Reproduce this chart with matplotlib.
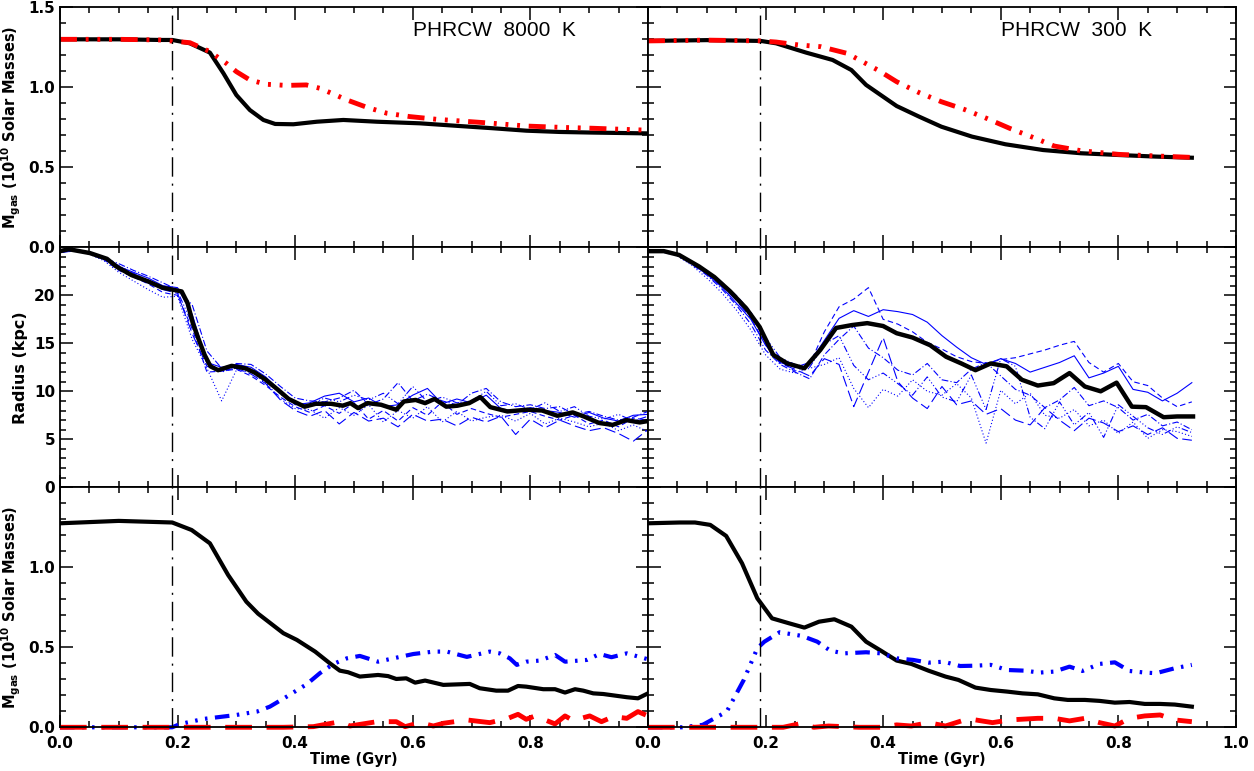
import numpy as np
import matplotlib
matplotlib.use("Agg")
import matplotlib.pyplot as plt
from matplotlib.ticker import MultipleLocator

# ---------------- data ----------------
# top row: gas mass, left = PHRCW 8000 K, right = PHRCW 300 K
t_top_l = [0.0, 0.1, 0.17, 0.191, 0.221, 0.255, 0.278, 0.300, 0.323, 0.346, 0.366, 0.397,
           0.437, 0.482, 0.539, 0.612, 0.680, 0.737, 0.793, 0.850, 0.907, 1.0]
m_black_l = [1.30, 1.30, 1.296, 1.296, 1.275, 1.217, 1.088, 0.952, 0.858, 0.796, 0.771, 0.769,
             0.785, 0.796, 0.785, 0.775, 0.758, 0.744, 0.729, 0.721, 0.717, 0.712]
t_red_l = [0.0, 0.1, 0.17, 0.221, 0.255, 0.283, 0.300, 0.323, 0.351, 0.385, 0.419, 0.442, 0.465,
           0.488, 0.522, 0.556, 0.595, 0.641, 0.680, 0.737, 0.793, 0.850, 0.907, 1.0]
m_red_l = [1.30, 1.30, 1.296, 1.279, 1.223, 1.15, 1.098, 1.046, 1.019, 1.012, 1.015, 0.994, 0.958,
           0.921, 0.875, 0.838, 0.817, 0.80, 0.79, 0.775, 0.758, 0.75, 0.744, 0.732]

t_top_r = [0.0, 0.1, 0.192, 0.218, 0.269, 0.314, 0.346, 0.371, 0.423, 0.461, 0.499, 0.551,
           0.608, 0.672, 0.736, 0.800, 0.864, 0.925]
m_black_r = [1.29, 1.295, 1.29, 1.275, 1.217, 1.171, 1.108, 1.015, 0.883, 0.817, 0.754, 0.692,
             0.644, 0.608, 0.588, 0.577, 0.567, 0.56]
t_red_r = [0.0, 0.1, 0.192, 0.218, 0.256, 0.294, 0.339, 0.365, 0.391, 0.423, 0.461, 0.499,
           0.538, 0.576, 0.615, 0.659, 0.691, 0.736, 0.800, 0.864, 0.925]
m_red_r = [1.29, 1.295, 1.29, 1.283, 1.265, 1.254, 1.212, 1.16, 1.108, 1.035, 0.967, 0.91,
           0.862, 0.806, 0.744, 0.681, 0.633, 0.604, 0.581, 0.571, 0.562]

# middle row: radius (kpc)
t_rad_l = [0.0, 0.015, 0.051, 0.080, 0.096, 0.122, 0.148, 0.174, 0.191, 0.207, 0.217, 0.226,
           0.236, 0.246, 0.256, 0.269, 0.292, 0.315, 0.331, 0.350, 0.370, 0.389, 0.416, 0.435,
           0.461, 0.481, 0.494, 0.507, 0.523, 0.546, 0.572, 0.585, 0.605, 0.621, 0.637, 0.657,
           0.676, 0.696, 0.715, 0.732, 0.761, 0.794, 0.820, 0.846, 0.872, 0.891, 0.917, 0.940,
           0.963, 0.986, 1.0]
r_black_l = [24.6, 24.8, 24.4, 23.8, 23.0, 22.1, 21.5, 20.8, 20.6, 20.4, 19.2, 17.1,
             15.4, 13.8, 12.6, 12.2, 12.65, 12.4, 11.96, 11.2, 10.2, 9.2, 8.4, 8.7,
             8.7, 8.5, 8.77, 8.25, 8.77, 8.6, 8.08, 8.94, 9.1, 8.77, 9.2, 8.4,
             8.5, 8.77, 9.4, 8.35, 7.9, 8.08, 8.0, 7.45, 7.8, 7.38, 6.7, 6.5,
             7.0, 6.76, 6.9]

t_rad_r = [0.0, 0.027, 0.053, 0.087, 0.113, 0.140, 0.167, 0.190, 0.213, 0.237, 0.266, 0.293,
           0.320, 0.347, 0.373, 0.400, 0.423, 0.450, 0.480, 0.507, 0.533, 0.557, 0.583, 0.610,
           0.636, 0.663, 0.690, 0.717, 0.743, 0.770, 0.797, 0.823, 0.847, 0.877, 0.900, 0.927]
r_black_r = [24.6, 24.6, 24.2, 23.0, 21.9, 20.4, 18.65, 16.7, 13.8, 12.9, 12.4, 14.3,
             16.6, 16.9, 17.1, 16.8, 16.05, 15.6, 14.8, 13.6, 12.9, 12.2, 12.9, 12.6,
             11.2, 10.6, 10.85, 11.9, 10.5, 10.0, 10.9, 8.4, 8.35, 7.3, 7.38, 7.38]

# individual radii (blue), sampled every 0.025 Gyr
t_blue_l = np.arange(41) * 0.025
blue_l = [
    [24.5, 24.8, 24.4, 23.8, 23.0, 22.4, 21.8, 21.0, 20.8, 18.0, 13.0, 12.5, 12.8, 12.5, 11.5, 10.0,
     8.6, 8.8, 9.5, 9.8, 8.9, 9.3, 8.4, 8.6, 9.6, 10.3, 8.7, 9.2, 8.8, 9.6, 8.2, 7.9, 8.3, 8.0,
     7.8, 7.3, 7.8, 7.2, 6.9, 7.5, 7.6],
    [24.6, 24.7, 24.3, 23.7, 22.6, 21.9, 21.2, 20.3, 20.0, 16.5, 12.0, 12.1, 12.3, 11.6, 10.6, 9.4,
     8.4, 7.8, 8.5, 7.7, 8.8, 7.1, 8.0, 6.9, 8.3, 7.5, 8.9, 7.6, 8.2, 7.7, 7.3, 7.6, 7.9, 7.4,
     7.0, 7.5, 6.6, 7.0, 6.3, 7.2, 7.0],
    [24.5, 24.6, 24.5, 23.9, 23.3, 22.6, 22.0, 21.3, 20.6, 19.0, 14.2, 12.4, 12.9, 12.8, 11.8, 10.5,
     9.3, 9.0, 8.9, 9.3, 10.1, 8.6, 9.2, 10.9, 9.0, 9.7, 9.0, 8.6, 9.8, 10.3, 8.9, 8.4, 8.6, 8.2,
     8.4, 7.6, 7.9, 7.4, 7.0, 7.3, 7.9],
    [24.4, 24.7, 24.3, 23.6, 22.4, 21.5, 20.6, 19.8, 19.9, 15.4, 12.4, 9.0, 12.2, 12.0, 10.9, 9.2,
     8.2, 8.1, 7.2, 8.3, 7.5, 8.6, 6.8, 8.0, 7.2, 8.4, 6.8, 7.9, 6.9, 7.3, 7.5, 6.9, 7.7, 6.6,
     7.2, 6.8, 6.3, 6.7, 5.9, 6.5, 5.8],
    [24.6, 24.8, 24.5, 24.0, 23.1, 22.3, 21.6, 20.9, 20.4, 17.0, 12.8, 12.0, 12.5, 12.3, 11.4, 9.7,
     8.8, 8.6, 9.3, 8.9, 9.6, 9.1, 9.8, 8.7, 10.5, 8.9, 9.4, 8.8, 9.0, 10.0, 8.5, 8.7, 8.1, 8.8,
     7.9, 8.4, 7.4, 7.1, 7.6, 6.9, 7.4],
    [24.5, 24.6, 24.4, 23.8, 22.8, 22.0, 21.3, 20.6, 20.2, 16.0, 12.6, 12.2, 12.4, 11.8, 10.8, 9.1,
     8.0, 7.4, 8.0, 6.6, 7.8, 6.9, 7.2, 6.3, 7.6, 6.9, 7.1, 6.4, 7.3, 6.8, 7.4, 5.5, 7.1, 6.2,
     7.0, 6.4, 5.9, 6.2, 5.6, 4.8, 6.0],
]
t_blue_r = np.arange(38) * 0.025
blue_r = [
    [24.6, 24.6, 24.2, 23.3, 22.2, 20.9, 19.2, 17.5, 14.8, 13.0, 12.5, 13.0, 15.3, 17.6, 18.4, 17.8,
     18.5, 18.3, 18.0, 17.2, 15.8, 14.6, 13.5, 12.8, 13.4, 12.9, 12.0, 12.5, 13.0, 13.7, 11.4, 11.9,
     12.6, 10.2, 9.9, 9.0, 9.8, 10.9],
    [24.6, 24.6, 24.3, 23.5, 22.6, 21.4, 20.0, 18.3, 15.0, 13.2, 12.1, 12.8, 16.2, 18.8, 19.6, 20.8,
     17.5, 17.0, 16.2, 15.1, 14.4, 13.6, 13.1, 12.9, 13.3, 13.5, 13.9, 14.3, 14.8, 15.2, 13.0, 12.0,
     12.9, 11.0, 10.6, 9.3, 8.4, 8.9],
    [24.5, 24.6, 24.2, 23.2, 22.1, 20.7, 19.0, 17.0, 14.3, 12.8, 12.0, 11.3, 13.8, 15.4, 16.8, 14.5,
     13.5, 12.2, 11.7, 12.9, 11.2, 10.9, 12.3, 13.0, 11.6, 10.2, 9.6, 8.3, 9.1, 10.4, 8.5, 9.0,
     8.3, 7.0, 7.6, 6.4, 6.8, 6.0],
    [24.5, 24.5, 24.1, 23.1, 21.8, 20.3, 18.5, 16.4, 13.8, 12.3, 11.9, 12.4, 12.8, 13.5, 10.3, 8.3,
     10.2, 9.5, 11.2, 10.0, 9.6, 10.8, 9.3, 4.6, 10.1, 8.7, 9.8, 7.5, 7.2, 8.1, 6.4, 7.0,
     5.6, 6.8, 5.1, 6.0, 5.8, 5.3],
    [24.6, 24.6, 24.3, 23.4, 22.4, 21.1, 19.6, 17.8, 15.6, 13.5, 12.8, 12.5, 14.9, 15.8, 12.7, 11.2,
     11.9, 10.8, 9.6, 11.5, 9.4, 8.9, 11.7, 8.1, 13.4, 12.6, 7.3, 6.1, 8.9, 6.5, 7.8, 5.2,
     8.6, 7.4, 6.2, 5.5, 6.3, 5.7],
    [24.5, 24.6, 24.2, 23.3, 22.3, 21.0, 19.5, 17.6, 14.9, 12.9, 12.3, 11.6, 13.4, 12.8, 8.4, 12.0,
     15.6, 11.0, 9.3, 8.2, 10.5, 8.6, 9.0, 7.6, 8.2, 7.0, 6.5, 8.3, 7.0, 5.9, 7.2, 6.7,
     5.8, 6.4, 5.5, 6.2, 5.1, 4.9],
]

# bottom row: gas mass components
t_bot_l = [0.0, 0.1, 0.191, 0.224, 0.255, 0.286, 0.317, 0.337, 0.380, 0.403, 0.434, 0.459, 0.476,
           0.490, 0.510, 0.541, 0.558, 0.572, 0.589, 0.604, 0.621, 0.652, 0.697, 0.714, 0.742,
           0.762, 0.779, 0.793, 0.822, 0.842, 0.859, 0.876, 0.890, 0.907, 0.924, 0.964, 0.983, 1.0]
mb_black_l = [1.275, 1.29, 1.28, 1.233, 1.15, 0.952, 0.785, 0.71, 0.588, 0.546, 0.473, 0.40, 0.354,
              0.344, 0.317, 0.327, 0.32, 0.302, 0.306, 0.279, 0.292, 0.265, 0.271, 0.244, 0.229,
              0.229, 0.258, 0.254, 0.238, 0.238, 0.217, 0.238, 0.229, 0.212, 0.208, 0.188, 0.181, 0.212]
t_bblue_l = [0.0, 0.191, 0.204, 0.244, 0.300, 0.335, 0.357, 0.385, 0.420, 0.442, 0.465, 0.488,
             0.510, 0.541, 0.567, 0.601, 0.635, 0.658, 0.692, 0.731, 0.748, 0.765, 0.777, 0.793,
             0.816, 0.842, 0.859, 0.896, 0.918, 0.938, 0.964, 1.0]
mb_blue_l = [0.0, 0.0, 0.02, 0.052, 0.077, 0.098, 0.129, 0.19, 0.27, 0.338, 0.396, 0.431,
             0.446, 0.41, 0.431, 0.458, 0.473, 0.473, 0.44, 0.473, 0.462, 0.431, 0.39, 0.41,
             0.417, 0.452, 0.41, 0.421, 0.458, 0.438, 0.462, 0.425]
t_bred_l = [0.0, 0.38, 0.431, 0.476, 0.493, 0.539, 0.572, 0.587, 0.612, 0.635, 0.652, 0.692,
            0.731, 0.762, 0.779, 0.793, 0.808, 0.842, 0.859, 0.873, 0.901, 0.921, 0.941, 0.964,
            0.983, 1.0]
mb_red_l = [0.0, 0.0, 0.004, 0.035, 0.008, 0.035, 0.035, 0.004, 0.029, 0.008, 0.025, 0.046,
            0.029, 0.056, 0.081, 0.05, 0.071, 0.021, 0.071, 0.042, 0.071, 0.035, 0.067, 0.056,
            0.098, 0.071]

t_bot_r = [0.0, 0.054, 0.080, 0.106, 0.133, 0.160, 0.186, 0.211, 0.240, 0.266, 0.291, 0.317,
           0.346, 0.371, 0.397, 0.423, 0.448, 0.477, 0.506, 0.528, 0.557, 0.583, 0.611, 0.637,
           0.663, 0.691, 0.714, 0.743, 0.768, 0.794, 0.819, 0.845, 0.871, 0.896, 0.925]
mb_black_r = [1.275, 1.28, 1.28, 1.265, 1.196, 1.025, 0.806, 0.681, 0.65, 0.623, 0.66, 0.675,
              0.629, 0.535, 0.477, 0.417, 0.396, 0.354, 0.317, 0.296, 0.248, 0.233, 0.223, 0.212,
              0.206, 0.181, 0.171, 0.171, 0.165, 0.154, 0.158, 0.146, 0.146, 0.142, 0.129]
t_bblue_r = [0.0, 0.058, 0.093, 0.134, 0.163, 0.186, 0.198, 0.224, 0.262, 0.288, 0.310, 0.333,
             0.371, 0.397, 0.423, 0.451, 0.477, 0.503, 0.531, 0.557, 0.583, 0.611, 0.640, 0.666,
             0.691, 0.717, 0.739, 0.768, 0.794, 0.819, 0.845, 0.864, 0.896, 0.925]
mb_blue_r = [0.0, 0.0, 0.015, 0.098, 0.296, 0.494, 0.535, 0.594, 0.571, 0.535, 0.479, 0.462,
             0.469, 0.462, 0.431, 0.421, 0.404, 0.41, 0.383, 0.385, 0.39, 0.358, 0.354, 0.342,
             0.348, 0.379, 0.352, 0.396, 0.406, 0.352, 0.342, 0.338, 0.369, 0.39]
t_bred_r = [0.0, 0.23, 0.262, 0.282, 0.307, 0.359, 0.397, 0.423, 0.448, 0.477, 0.506, 0.535,
            0.557, 0.586, 0.615, 0.663, 0.691, 0.717, 0.743, 0.768, 0.794, 0.819, 0.845, 0.871,
            0.896, 0.925]
mb_red_r = [0.0, 0.0, 0.025, 0.0, 0.008, 0.0, 0.0, 0.015, 0.008, 0.029, 0.008, 0.042,
            0.046, 0.029, 0.046, 0.056, 0.056, 0.040, 0.056, 0.029, 0.008, 0.056, 0.071, 0.077,
            0.046, 0.035]

titles = ["PHRCW  8000  K", "PHRCW  300  K"]
t_event = 0.19

# ---------------- styles ----------------
RED = "#ff0000"
BLUE = "#0000ff"
dash3dot = (0, (3.5, 1.8, 0.6, 1.8, 0.6, 1.8, 0.6, 1.8))
blue_styles = ["-", (0, (5, 3)), (0, (6, 2, 1, 2)), (0, (1, 2)),
               (0, (6, 2, 1, 2, 1, 2, 1, 2)), (0, (10, 4))]

plt.rcParams["font.family"] = ["DejaVu Sans"]
plt.rcParams["font.weight"] = "bold"
plt.rcParams["mathtext.default"] = "bf"

fig, axes = plt.subplots(3, 2, figsize=(12.54, 7.71), dpi=100)
fig.subplots_adjust(left=0.0478, right=0.9856, bottom=0.0567, top=0.9905, wspace=0, hspace=0)

# top row
for ax, tb, mb, tr, mr in [(axes[0, 0], t_top_l, m_black_l, t_red_l, m_red_l),
                           (axes[0, 1], t_top_r, m_black_r, t_red_r, m_red_r)]:
    ax.plot(tb, mb, color="k", lw=3)
    ax.plot(tr, mr, color=RED, lw=3.5, linestyle=dash3dot)

# middle row
for ax, tb, rb, tbl, bl in [(axes[1, 0], t_rad_l, r_black_l, t_blue_l, blue_l),
                            (axes[1, 1], t_rad_r, r_black_r, t_blue_r, blue_r)]:
    for vals, ls in zip(bl, blue_styles):
        ax.plot(tbl, vals, color=BLUE, lw=0.8, linestyle=ls)
    ax.plot(tb, rb, color="k", lw=3.2)

# bottom row
for ax, tb, mb, tbb, mbb, tbr, mbr in [
        (axes[2, 0], t_bot_l, mb_black_l, t_bblue_l, mb_blue_l, t_bred_l, mb_red_l),
        (axes[2, 1], t_bot_r, mb_black_r, t_bblue_r, mb_blue_r, t_bred_r, mb_red_r)]:
    ax.plot(tb, mb, color="k", lw=3)
    ax.plot(tbb, mbb, color=BLUE, lw=3, linestyle=dash3dot, clip_on=False)
    ax.plot(tbr, mbr, color=RED, lw=3.5, linestyle=(0, (5.5, 3)), clip_on=False)

# axes formatting
for i in range(3):
    for j in range(2):
        ax = axes[i, j]
        ax.set_xlim(0, 1.0)
        ax.axvline(t_event, color="k", lw=1, linestyle=(0, (14, 5, 1.5, 5)))
        ax.xaxis.set_major_locator(MultipleLocator(0.2))
        ax.xaxis.set_minor_locator(MultipleLocator(0.05))
        ax.tick_params(which="both", direction="in", top=True, right=True, width=1.1,
                       labelsize=11)
        ax.tick_params(which="major", length=9)
        ax.tick_params(which="minor", length=4.5)
        ax.tick_params(axis="x", pad=6)
        for s in ax.spines.values():
            s.set_linewidth(1.3)
        if i == 1:
            ax.set_ylim(0, 25)
            ax.set_yticks([0, 5, 10, 15, 20, 25])
            ax.yaxis.set_minor_locator(MultipleLocator(1))
        else:
            ax.set_ylim(0, 1.5)
            ax.set_yticks([0, 0.5, 1.0, 1.5])
            ax.yaxis.set_minor_locator(MultipleLocator(0.1))
        if i < 2:
            ax.tick_params(labelbottom=False)
        if j == 1:
            ax.tick_params(labelleft=False)

axes[0, 0].set_yticklabels(["0.0", "0.5", "1.0", "1.5"])
axes[1, 0].set_yticklabels(["0", "5", "10", "15", "20", ""])
axes[2, 0].set_yticklabels(["0.0", "0.5", "1.0", ""])
axes[2, 0].set_xticks([0, 0.2, 0.4, 0.6, 0.8, 1.0])
axes[2, 0].set_xticklabels(["0.0", "0.2", "0.4", "0.6", "0.8", ""])
axes[2, 1].set_xticks([0, 0.2, 0.4, 0.6, 0.8, 1.0])
axes[2, 1].set_xticklabels(["0.0", "0.2", "0.4", "0.6", "0.8", "1.0"])

ylab_mass = r"$\mathbf{M_{gas}}$ (10$^{10}$ Solar Masses)"
axes[0, 0].set_ylabel(ylab_mass, fontsize=10.5, fontweight="bold")
axes[1, 0].set_ylabel("Radius (kpc)", fontsize=11.5, fontweight="bold")
axes[2, 0].set_ylabel(ylab_mass, fontsize=10.5, fontweight="bold")
for j in range(2):
    axes[2, j].set_xlabel("Time (Gyr)", fontsize=10.5, fontweight="bold", labelpad=1)
    axes[0, j].text(0.6, 0.905, titles[j], transform=axes[0, j].transAxes,
                    fontsize=15, fontweight="normal", family="Liberation Sans",
                    ha="left", va="center")

fig.savefig("out.png", dpi=100)
